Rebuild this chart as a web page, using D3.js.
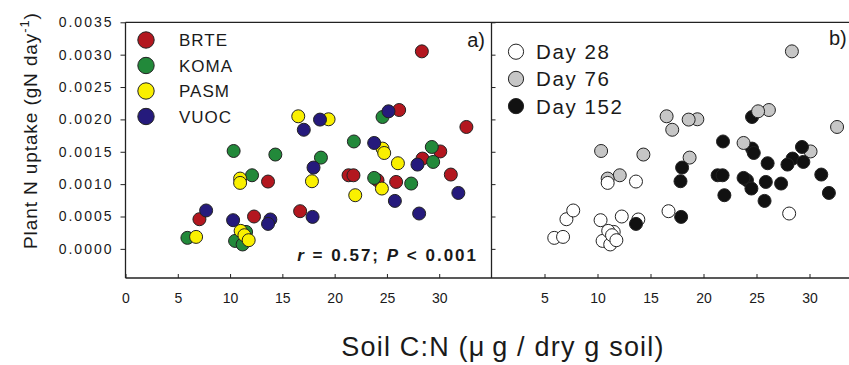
<!DOCTYPE html>
<html>
<head>
<meta charset="utf-8">
<script src="https://cdn.jsdelivr.net/npm/d3@7"></script>
<style>
  body { margin: 0; background: #fff; }
  text { font-family: "Liberation Sans", Arial, sans-serif; fill: #1a1a1a; }
</style>
</head>
<body>
<div id="chart"></div>
<script>
// [soil C:N, plant N uptake, harvest day]
const brte = [
  [28.34, 0.003051, 76], [26.17, 0.002145, 76], [32.60, 0.001883, 76], [30.10, 0.001505, 76],
  [28.40, 0.001395, 152], [21.33, 0.001137, 152], [21.80, 0.001137, 152], [24.10, 0.001060, 152],
  [25.88, 0.001034, 152], [31.11, 0.001148, 152], [16.70, 0.000582, 28], [13.63, 0.001040, 28],
  [7.07, 0.000458, 28], [12.29, 0.000500, 28]
];
const koma = [
  [24.58, 0.002037, 152], [21.84, 0.001659, 152], [29.29, 0.001574, 152], [29.42, 0.001343, 152],
  [18.69, 0.001410, 76], [23.78, 0.001096, 152], [27.32, 0.001009, 152], [10.34, 0.001512, 76],
  [14.33, 0.001457, 76], [12.10, 0.001137, 76], [5.92, 0.000170, 28], [11.53, 0.000262, 28],
  [10.48, 0.000123, 28], [11.20, 0.000068, 28]
];
const pasm = [
  [16.52, 0.002048, 76], [19.42, 0.002002, 76], [24.58, 0.001549, 152], [24.74, 0.001481, 152],
  [17.83, 0.001045, 152], [26.05, 0.001323, 152], [24.52, 0.000932, 152], [21.97, 0.000829, 152],
  [10.96, 0.001086, 76], [10.96, 0.001019, 28], [6.75, 0.000185, 28], [11.01, 0.000278, 28],
  [11.37, 0.000211, 28], [11.78, 0.000134, 28]
];
const vuoc = [
  [17.05, 0.001840, 76], [18.60, 0.001997, 76], [25.15, 0.002125, 76], [23.78, 0.001636, 76],
  [27.92, 0.001302, 152], [17.98, 0.001256, 152], [31.83, 0.000864, 152], [25.76, 0.000741, 152],
  [17.89, 0.000494, 152], [28.08, 0.000546, 28], [7.71, 0.000593, 28], [10.29, 0.000443, 28],
  [13.85, 0.000454, 28], [13.63, 0.000386, 152]
];

const species = ['BRTE', 'KOMA', 'PASM', 'VUOC'];
const speciesColors = ['#b3171f', '#22893a', '#faf000', '#251a7c'];
const days = [28, 76, 152];
const dayLabels = ['Day 28', 'Day 76', 'Day 152'];
const dayColors = ['#ffffff', '#c6c6c6', '#111111'];
const yTicks = [0, 0.0005, 0.0010, 0.0015, 0.0020, 0.0025, 0.0030, 0.0035];
const xTicksA = [0, 5, 10, 15, 20, 25, 30];
const xTicksB = [5, 10, 15, 20, 25, 30];

const W = 849, H = 365;
const plotTop = 22.3, plotBottom = 278;

const svg = d3.select('#chart').append('svg')
  .attr('width', W).attr('height', H);

const y = d3.scaleLinear().domain([-0.00045, 0.0035]).range([plotBottom, plotTop]);
const xa = d3.scaleLinear().domain([0, 35]).range([125.5, 491.5]);
const xb = d3.scaleLinear().domain([0, 35]).range([491.5, 862.5]);

const points = [];
[brte, koma, pasm, vuoc].forEach((arr, i) => {
  arr.forEach(d => points.push({ sp: i, cn: d[0], up: d[1], day: d[2] }));
});

// axes
const yAxis = svg.append('g')
  .attr('transform', `translate(${xa(0)},0)`)
  .call(d3.axisLeft(y).tickValues(yTicks).tickFormat(d3.format('.4f')).tickSize(5).tickPadding(7));
yAxis.selectAll('text').style('font-size', '14px').style('letter-spacing', '2px');

svg.append('g')
  .attr('transform', `translate(${xb(0)},0)`)
  .call(d3.axisRight(y).tickValues(yTicks).tickFormat('').tickSize(4));

const xAxisA = svg.append('g')
  .attr('transform', `translate(0,${plotBottom})`)
  .call(d3.axisBottom(xa).tickValues(xTicksA).tickSizeInner(-4).tickSizeOuter(0).tickPadding(15));
const xAxisB = svg.append('g')
  .attr('transform', `translate(0,${plotBottom})`)
  .call(d3.axisBottom(xb).tickValues(xTicksB).tickSizeInner(-4).tickSizeOuter(0).tickPadding(15));
[xAxisA, xAxisB].forEach(g => g.selectAll('text').style('font-size', '14px'));

svg.selectAll('.domain').remove();
svg.selectAll('.tick line').attr('stroke', '#222');
svg.selectAll('.tick text').attr('fill', '#1a1a1a').style('font-family', '"Liberation Sans", Arial, sans-serif');

// frame
const frame = svg.append('g').attr('stroke', '#222').attr('stroke-width', 1.3);
frame.append('line').attr('x1', xa(0)).attr('x2', W).attr('y1', plotTop).attr('y2', plotTop);
frame.append('line').attr('x1', xa(0)).attr('x2', W).attr('y1', plotBottom).attr('y2', plotBottom);
frame.append('line').attr('x1', xa(0)).attr('x2', xa(0)).attr('y1', plotTop).attr('y2', plotBottom);
frame.append('line').attr('x1', xb(0)).attr('x2', xb(0)).attr('y1', plotTop).attr('y2', plotBottom);

// panel a points
svg.append('g').selectAll('circle').data(points).join('circle')
  .attr('cx', d => xa(d.cn))
  .attr('cy', d => y(d.up))
  .attr('r', 6.5)
  .attr('fill', d => speciesColors[d.sp])
  .attr('stroke', '#222')
  .attr('stroke-width', 1);

// panel b points
svg.append('g').selectAll('circle').data(points).join('circle')
  .attr('cx', d => xb(d.cn))
  .attr('cy', d => y(d.up))
  .attr('r', 6.5)
  .attr('fill', d => dayColors[days.indexOf(d.day)])
  .attr('stroke', '#222')
  .attr('stroke-width', 1);

// legend a
const legA = svg.append('g').selectAll('g').data(species).join('g')
  .attr('transform', (d, i) => `translate(146,${40 + i * 25.5})`);
legA.append('circle').attr('r', 8.2)
  .attr('fill', (d, i) => speciesColors[i]).attr('stroke', '#222').attr('stroke-width', 1);
legA.append('text').attr('x', 33).attr('y', 6.2)
  .style('font-size', '17px').style('letter-spacing', '1px').text(d => d);

// legend b
const legB = svg.append('g').selectAll('g').data(dayLabels).join('g')
  .attr('transform', (d, i) => `translate(516,${51.7 + i * 27.2})`);
legB.append('circle').attr('r', 7.6)
  .attr('fill', (d, i) => dayColors[i]).attr('stroke', '#222').attr('stroke-width', 1);
legB.append('text').attr('x', 20).attr('y', 7.4)
  .style('font-size', '20.5px').style('letter-spacing', '1.6px').text(d => d);

// panel labels
svg.append('text').attr('x', 485).attr('y', 47).attr('text-anchor', 'end')
  .style('font-size', '20px').text('a)');
svg.append('text').attr('x', 829).attr('y', 45)
  .style('font-size', '20px').text('b)');

// correlation
const stat = svg.append('text').attr('x', 478).attr('y', 260.7).attr('text-anchor', 'end')
  .style('font-size', '17px').style('font-weight', 'bold').style('letter-spacing', '2px');
stat.append('tspan').style('font-style', 'italic').text('r');
stat.append('tspan').text(' = 0.57; ');
stat.append('tspan').style('font-style', 'italic').text('P');
stat.append('tspan').text(' < 0.001');

// axis titles
const yTitle = svg.append('text')
  .attr('transform', 'translate(37,249) rotate(-90)')
  .style('font-size', '19px').style('letter-spacing', '0.9px');
yTitle.append('tspan').text('Plant N uptake (gN day');
yTitle.append('tspan').attr('dy', -8).style('font-size', '13px').text('-1');
yTitle.append('tspan').attr('dy', 8).text(')');

svg.append('text').attr('x', 503).attr('y', 356).attr('text-anchor', 'middle')
  .style('font-size', '27px').style('letter-spacing', '1.2px')
  .text('Soil C:N (\u03bc\u2009g / dry g soil)');
</script>
</body>
</html>
